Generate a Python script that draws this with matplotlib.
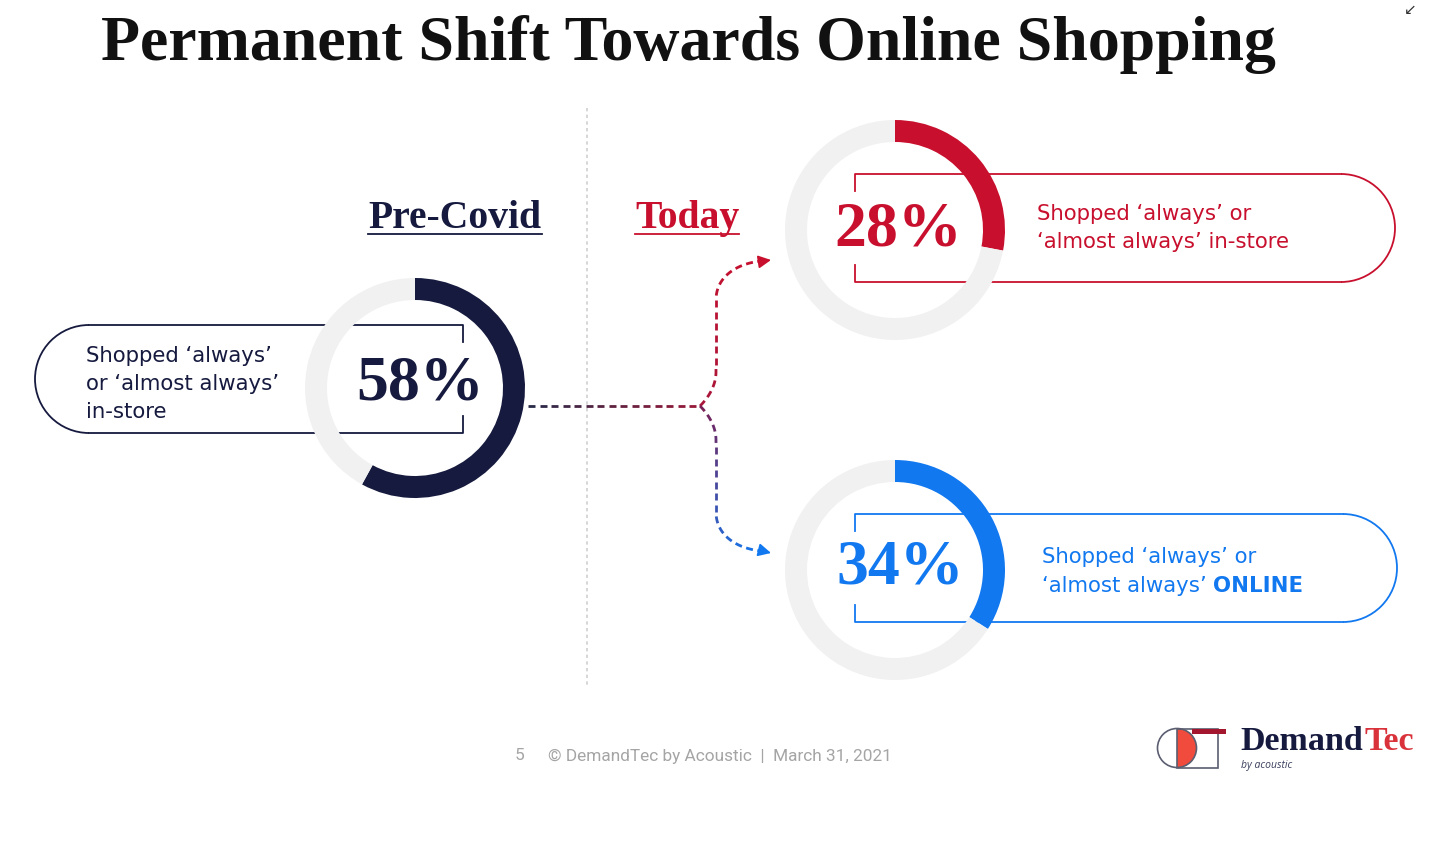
import numpy as np
import matplotlib.pyplot as plt
from matplotlib.collections import LineCollection
from matplotlib.patches import Arc, Wedge, Circle, Rectangle
from matplotlib.colors import to_rgb

W, H = 1440, 860

title = 'Permanent Shift Towards Online Shopping'
periods = ['Pre-Covid', 'Today']
shares = [58, 28, 34]
share_labels = ['58%', '28%', '34%']
descriptions = ['Shopped ‘always’\nor ‘almost always’\nin-store',
                'Shopped ‘always’ or\n‘almost always’ in-store',
                ['Shopped ‘always’ or', '‘almost always’ ']]
online_word = 'ONLINE'
footer_page = '5'
footer_text = '© DemandTec by Acoustic  |  March 31, 2021'

NAVY = '#161a3e'
RED = '#c8102e'
BLUE = '#1178f0'
RING_BG = '#f1f1f1'
ring_colors = [NAVY, RED, BLUE]

# donut centres in pixel space (y down)
centres = [(415, 388), (895, 230), (895, 570)]
R = 110

SERIF = 'Liberation Serif'
SANS = 'DejaVu Sans'
DESC_FS = 15.3

fig = plt.figure(figsize=(14.4, 8.6), dpi=100)
ax = fig.add_axes([0, 0, 1, 1])
ax.set_xlim(0, W)
ax.set_ylim(H, 0)
ax.axis('off')


def pill(side, bx, top, bot, cx, color):
    r = (bot - top) / 2
    cy = (top + bot) / 2
    tick = 17
    ax.plot([bx, bx, cx], [top + tick, top, top], color=color, lw=1.3)
    ax.plot([bx, bx, cx], [bot - tick, bot, bot], color=color, lw=1.3)
    if side == 'left':
        ax.add_patch(Arc((cx, cy), 2 * r, 2 * r, theta1=90, theta2=270, color=color, lw=1.3))
    else:
        ax.add_patch(Arc((cx, cy), 2 * r, 2 * r, theta1=270, theta2=90, color=color, lw=1.3))


def bezier(p0, p1, p2, p3, n=40):
    t = np.linspace(0, 1, n)[:, None]
    p0, p1, p2, p3 = map(np.asarray, (p0, p1, p2, p3))
    return (1 - t) ** 3 * p0 + 3 * (1 - t) ** 2 * t * p1 + 3 * (1 - t) * t ** 2 * p2 + t ** 3 * p3


def dashed(pts, c0, c1, dash=7.0, gap=4.5, lw=2.0):
    pts = np.asarray(pts, dtype=float)
    seg = np.diff(pts, axis=0)
    d = np.concatenate([[0], np.cumsum(np.hypot(seg[:, 0], seg[:, 1]))])
    total = d[-1]
    segs, cols = [], []
    s = 0.0
    while s < total:
        e = min(s + dash, total)
        t = np.linspace(s, e, 6)
        segs.append(np.column_stack([np.interp(t, d, pts[:, 0]), np.interp(t, d, pts[:, 1])]))
        f = (s + e) / 2 / total
        cols.append((1 - f) * np.array(to_rgb(c0)) + f * np.array(to_rgb(c1)))
        s += dash + gap
    ax.add_collection(LineCollection(segs, colors=cols, linewidths=lw, capstyle='butt'))


# title
ax.text(688, 60, title, ha='center', va='baseline', fontsize=46, fontweight='bold',
        family=SERIF, color='#111111')
ax.text(1410, 10, '↙', ha='center', va='center', fontsize=11, color='#333333')

# divider
ax.plot([587, 587], [108, 688], color='#cfcfcf', lw=1.2, ls=(0, (2, 2)))

# pills
pill('left', 463, 325, 433, 89, NAVY)
pill('right', 855, 174, 282, 1341, RED)
pill('right', 855, 514, 622, 1343, BLUE)

# flow arrows
dashed([(528, 406), (700, 406)], '#262a48', '#9a1838')
up = np.vstack([bezier((700, 406), (708, 398), (716, 386), (716, 372)),
                [(716, 300)],
                bezier((716, 300), (716, 276), (738, 263), (762, 261))])
dashed(up, '#a8163a', RED)
down = np.vstack([bezier((700, 406), (708, 414), (716, 426), (716, 440)),
                  [(716, 512)],
                  bezier((716, 512), (716, 536), (738, 549), (762, 551))])
dashed(down, '#7a1f55', BLUE)
for tip, tail, c in [((771, 260), (761, 261.5), RED), ((771, 553), (761, 550.5), BLUE)]:
    ax.annotate('', xy=tip, xytext=tail,
                arrowprops=dict(arrowstyle='-|>,head_length=0.55,head_width=0.28',
                                color=c, lw=1.2, shrinkA=0, shrinkB=0, mutation_scale=14))

# donuts
for (cx, cy), s, c in zip(centres, shares, ring_colors):
    pax = fig.add_axes([(cx - R) / W, 1 - (cy + R) / H, 2 * R / W, 2 * R / H])
    pax.pie([s, 100 - s], colors=[c, RING_BG], startangle=90, counterclock=False,
            radius=1, wedgeprops=dict(width=0.2, linewidth=0))
    pax.set_xlim(-1, 1)
    pax.set_ylim(-1, 1)
    pax.axis('off')

# percentages
pct_pos = [(420, 384), (898, 231), (900, 568)]
for (x, y), lab, c in zip(pct_pos, share_labels, ring_colors):
    ax.text(x, y, lab, ha='center', va='center', fontsize=46, fontweight='bold',
            family=SERIF, color=c)

# descriptions
ax.text(86, 384, descriptions[0], ha='left', va='center', fontsize=DESC_FS, family=SANS,
        color=NAVY, linespacing=1.5)
ax.text(1037, 228, descriptions[1], ha='left', va='center', fontsize=DESC_FS, family=SANS,
        color=RED, linespacing=1.5)
ax.text(1042, 563, descriptions[2][0], ha='left', va='baseline', fontsize=DESC_FS,
        family=SANS, color=BLUE)
t_b = ax.text(1042, 592, descriptions[2][1], ha='left', va='baseline', fontsize=DESC_FS,
              family=SANS, color=BLUE)

# period headers
h1 = ax.text(455, 228, periods[0], ha='center', va='baseline', fontsize=28.5,
             fontweight='bold', family=SERIF, color=NAVY)
h2 = ax.text(687, 228, periods[1], ha='center', va='baseline', fontsize=28.5,
             fontweight='bold', family=SERIF, color=RED)

# footer
ax.text(520, 756, footer_page, ha='center', va='center', fontsize=12.4, family='Roboto',
        color='#a5a5a5')
ax.text(548, 756, footer_text, ha='left', va='center', fontsize=12.4, family='Roboto',
        color='#a5a5a5')

# logo
ax.add_patch(Wedge((1177, 748), 19.5, -90, 90, fc='#f04b3c', ec='none'))
ax.add_patch(Circle((1177, 748), 19.5, fill=False, ec='#5a5e70', lw=1.2))
ax.add_patch(Rectangle((1177, 729), 41, 39, fill=False, ec='#5a5e70', lw=1.2))
ax.add_patch(Rectangle((1192, 729), 34, 5, fc='#a3162d', ec='none'))
d1 = ax.text(1240, 750, 'Demand', ha='left', va='baseline', fontsize=24.5, fontweight='bold',
             family=SERIF, color=NAVY)
ax.text(1241, 768, 'by acoustic', ha='left', va='baseline', fontsize=7.5, style='italic',
        family='Open Sans', color='#3a3f5c')

# pieces placed after measuring text
fig.canvas.draw()
rend = fig.canvas.get_renderer()
inv = ax.transData.inverted()


def extent(t):
    bb = t.get_window_extent(rend).transformed(inv)
    return bb.xmin, bb.xmax


x0, x1 = extent(t_b)
ax.text(x1, 592, online_word, ha='left', va='baseline', fontsize=DESC_FS, fontweight='bold',
        family=SANS, color=BLUE)
x0, x1 = extent(d1)
ax.text(x1 + 2, 750, 'Tec', ha='left', va='baseline', fontsize=24.5, fontweight='bold',
        family=SERIF, color='#d9323a')
for h, c in [(h1, NAVY), (h2, RED)]:
    x0, x1 = extent(h)
    ax.plot([x0, x1], [234, 234], color=c, lw=1.3)

fig.savefig('out.png', dpi=100)
